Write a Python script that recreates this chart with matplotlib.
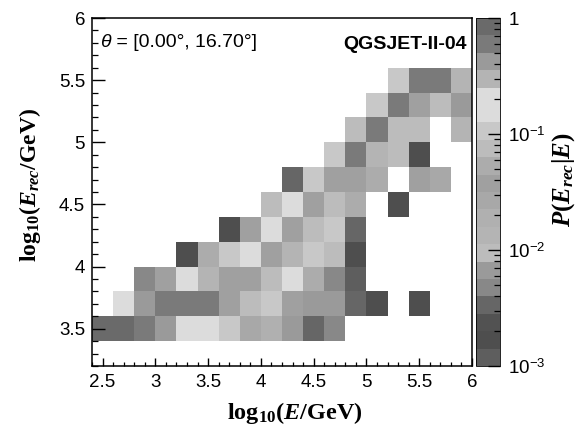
import numpy as np
import matplotlib
matplotlib.use("Agg")
import matplotlib.pyplot as plt
from matplotlib.colors import ListedColormap, LogNorm
from matplotlib.ticker import MultipleLocator, FixedLocator, LogLocator, NullFormatter

plt.rcParams['font.family'] = ['Liberation Sans', 'DejaVu Sans']
plt.rcParams['mathtext.fontset'] = 'custom'
plt.rcParams['mathtext.rm'] = 'Liberation Sans'
plt.rcParams['mathtext.bf'] = 'Liberation Serif:bold'
plt.rcParams['mathtext.it'] = 'Liberation Serif:bold:italic'
plt.rcParams['mathtext.sf'] = 'Liberation Sans:italic'

# ---- data ----
# bin edges, log10(E/GeV) and log10(Erec/GeV)
x_edges = [2.4, 2.6, 2.8, 3.0, 3.2, 3.4, 3.6, 3.8, 4.0, 4.2, 4.4, 4.6, 4.8, 5.0, 5.2, 5.4, 5.6, 5.8, 6.0]
y_edges = [3.4, 3.6, 3.8, 4.0, 4.2, 4.4, 4.6, 4.8, 5.0, 5.2, 5.4, 5.6]

# P(Erec|E) per row (Erec bin, bottom to top), columns = E bins; 0 = empty
row_3p4 = [0.84, 0.75, 0.60, 0.42, 0.15, 0.15, 0.11, 0.027, 0.019, 0.0067, 0.0034, 0.0047, 0, 0, 0, 0, 0, 0]
row_3p6 = [0, 0.21, 0.42, 0.60, 0.60, 0.60, 0.038, 0.075, 0.11, 0.038, 0.0067, 0.0067, 0.0034, 0.0017, 0, 0.0017, 0, 0]
row_3p8 = [0, 0, 0.0047, 0.038, 0.15, 0.013, 0.038, 0.038, 0.075, 0.15, 0.053, 0.0047, 0.0012, 0, 0, 0, 0, 0]
row_4p0 = [0, 0, 0, 0, 0.0017, 0.053, 0.11, 0.15, 0.038, 0.013, 0.11, 0.075, 0.0017, 0, 0, 0, 0, 0]
row_4p2 = [0, 0, 0, 0, 0, 0, 0.0017, 0.038, 0.15, 0.038, 0.075, 0.11, 0.0034, 0, 0, 0, 0, 0]
row_4p4 = [0, 0, 0, 0, 0, 0, 0, 0, 0.075, 0.15, 0.038, 0.075, 0.053, 0, 0.0017, 0, 0, 0]
row_4p6 = [0, 0, 0, 0, 0, 0, 0, 0, 0, 0.0034, 0.11, 0.038, 0.038, 0.053, 0, 0.038, 0.027, 0]
row_4p8 = [0, 0, 0, 0, 0, 0, 0, 0, 0, 0, 0, 0.11, 0.60, 0.30, 0.075, 0.0017, 0, 0]
row_5p0 = [0, 0, 0, 0, 0, 0, 0, 0, 0, 0, 0, 0, 0.075, 0.60, 0.075, 0.075, 0, 0.30]
row_5p2 = [0, 0, 0, 0, 0, 0, 0, 0, 0, 0, 0, 0, 0, 0.11, 0.60, 0.038, 0.075, 0.42]
row_5p4 = [0, 0, 0, 0, 0, 0, 0, 0, 0, 0, 0, 0, 0, 0, 0.11, 0.60, 0.60, 0.30]

# palette bands (from 1e-3 up to 1)
palette = ['#5e5e5e', '#4e4e4e', '#525252', '#666666', '#888888', '#9a9a9a',
           '#bcbcbc', '#b4b4b4', '#b0b0b0', '#a8a8a8', '#a0a0a0', '#acacac',
           '#bcbcbc', '#c8c8c8', '#dcdcdc', '#dcdcdc', '#b4b4b4', '#9a9a9a',
           '#7a7a7a', '#6a6a6a']

cbar_ticks = [1e-3, 1e-2, 1e-1, 1]
cbar_ticklabels = [r'$\mathrm{10}^{\mathrm{-3}}$', r'$\mathrm{10}^{\mathrm{-2}}$',
                   r'$\mathrm{10}^{\mathrm{-1}}$', r'$\mathrm{1}$']

Z = np.array([row_3p4, row_3p6, row_3p8, row_4p0, row_4p2, row_4p4,
              row_4p6, row_4p8, row_5p0, row_5p2, row_5p4], dtype=float)
Zm = np.ma.masked_where(Z <= 0, Z)

W, H = 577, 436
fig = plt.figure(figsize=(W / 100, H / 100), dpi=100)
ax = fig.add_axes([92 / W, 1 - 366 / H, (472 - 92) / W, (366 - 18) / H])
cax = fig.add_axes([476 / W, 1 - 366 / H, (500 - 476) / W, (366 - 18) / H])

cmap = ListedColormap(palette)
norm = LogNorm(vmin=1e-3, vmax=1)
mesh = ax.pcolormesh(x_edges, y_edges, Zm, cmap=cmap, norm=norm, shading='flat')

ax.set_xlim(2.4, 6.0)
ax.set_ylim(3.2, 6.0)
ax.xaxis.set_major_locator(FixedLocator([2.5, 3, 3.5, 4, 4.5, 5, 5.5, 6]))
ax.xaxis.set_minor_locator(MultipleLocator(0.1))
ax.yaxis.set_major_locator(FixedLocator([3.5, 4, 4.5, 5, 5.5, 6]))
ax.yaxis.set_minor_locator(MultipleLocator(0.1))
ax.set_xticklabels(['2.5', '3', '3.5', '4', '4.5', '5', '5.5', '6'])
ax.set_yticklabels(['3.5', '4', '4.5', '5', '5.5', '6'])
ax.tick_params(axis='x', which='major', direction='in', length=6, width=1.0,
               labelsize=13.5, pad=6, top=False)
ax.tick_params(axis='x', which='minor', direction='in', length=3, width=0.9, top=False)
ax.tick_params(axis='y', which='major', direction='in', length=9, width=1.0,
               labelsize=13.5, pad=5, right=False)
ax.tick_params(axis='y', which='minor', direction='in', length=4.5, width=0.9, right=False)
for s in ax.spines.values():
    s.set_linewidth(1.1)

fig.text(295 / W, 1 - 413 / H, r'$\mathbf{log}_{\mathbf{10}}\mathbf{(}E\mathbf{/GeV)}$',
         fontsize=17.5, ha='center', va='center')
fig.text(30 / W, 1 - 185 / H, r'$\mathbf{log}_{\mathbf{10}}\mathbf{(}E_{rec}\mathbf{/GeV)}$',
         fontsize=17, ha='center', va='center', rotation=90)
fig.text(564 / W, 1 - 180 / H, r'$P\mathbf{(}E_{rec}\mathbf{|}E\mathbf{)}$',
         fontsize=18, ha='center', va='center', rotation=90)

ax.text(0.022, 0.93, 'θ', transform=ax.transAxes, fontsize=14, style='italic',
        ha='left', va='center')
ax.annotate(' = [0.00°, 16.70°]', xy=(0.022, 0.93), xycoords='axes fraction',
            xytext=(7.5, 0), textcoords='offset points', fontsize=14,
            ha='left', va='center')
ax.text(0.985, 0.925, 'QGSJET-II-04', transform=ax.transAxes, fontsize=14,
        fontweight='bold', ha='right', va='center')

cb = fig.colorbar(mesh, cax=cax)
cb.outline.set_linewidth(0.6)
cax.yaxis.set_ticks_position('right')
cax.yaxis.set_major_locator(FixedLocator(cbar_ticks))
cax.yaxis.set_minor_locator(LogLocator(base=10, subs=np.arange(2, 10)))
cax.yaxis.set_minor_formatter(NullFormatter())
cax.set_yticklabels(cbar_ticklabels)
cax.tick_params(axis='y', which='major', direction='in', length=9, width=1.0,
                labelsize=13.5, pad=6)
cax.tick_params(axis='y', which='minor', direction='in', length=4.5, width=0.9)

fig.savefig('out.png', dpi=100)
